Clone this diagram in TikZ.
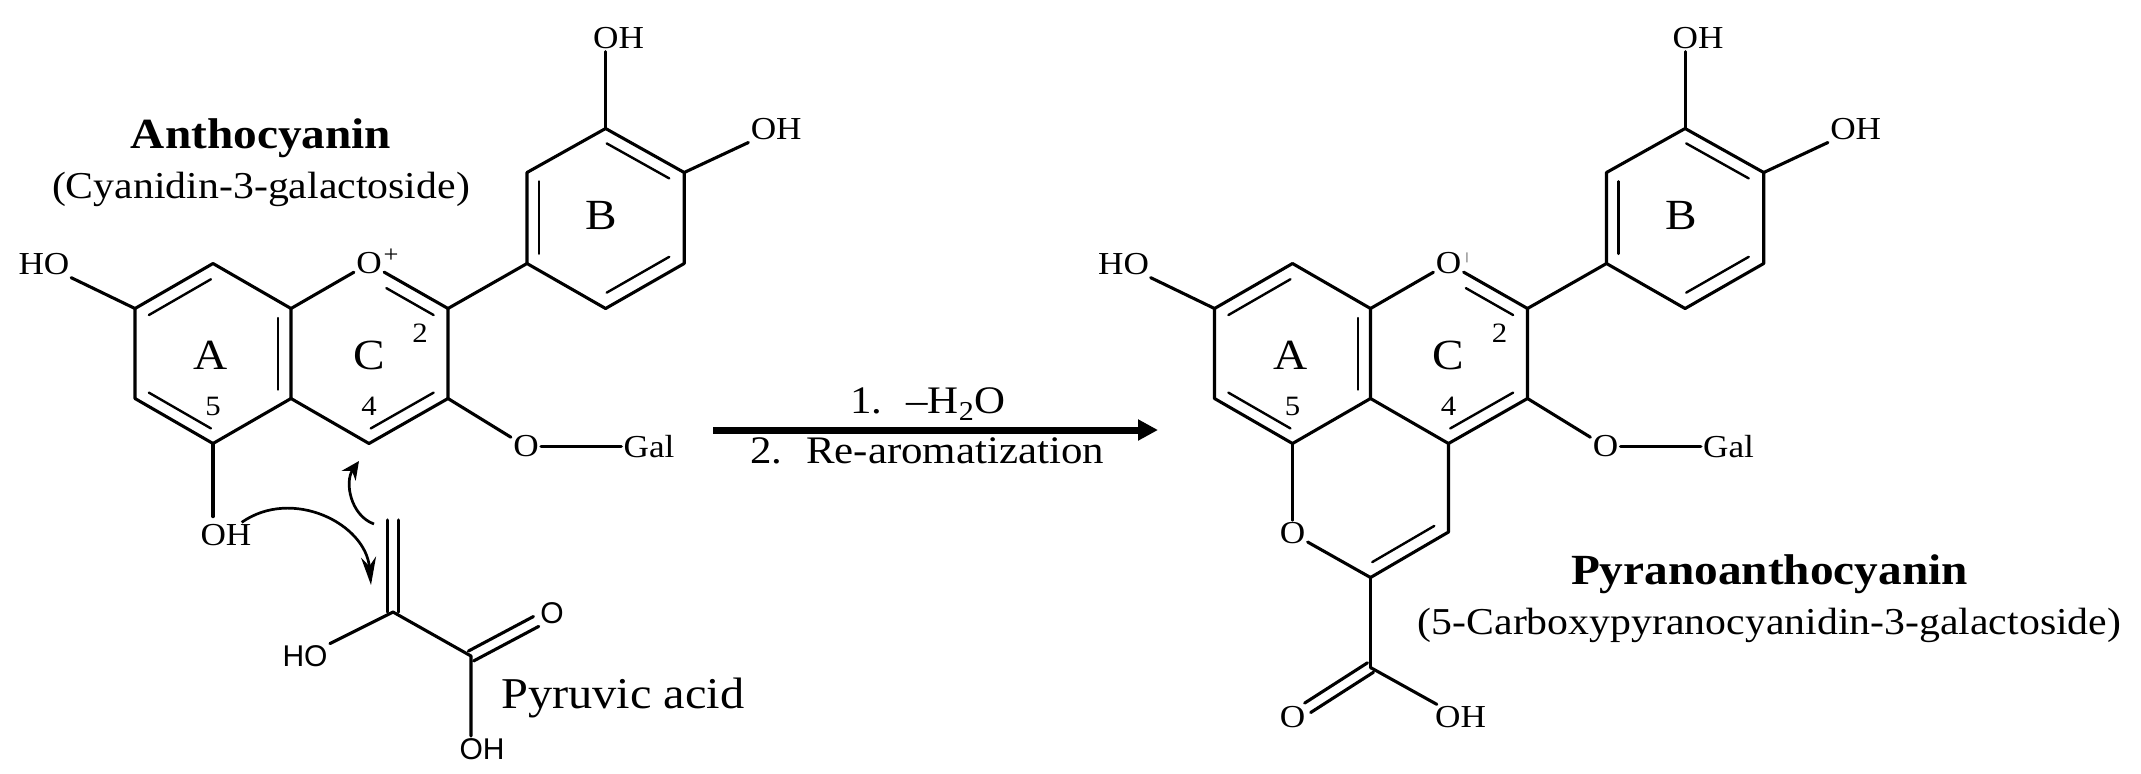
\documentclass[tikz,border=0pt]{standalone}
\usepackage{fontspec}
\setmainfont[FakeStretch=1.1]{Liberation Serif}
\setsansfont{Liberation Sans}
\usetikzlibrary{positioning,calc,arrows.meta}
\tikzset{
  every node/.style={inner sep=1pt},
  bond/.style={line width=1.55pt,line cap=round,line join=round},
  thinbond/.style={line width=1.2pt,line cap=round},
  heavybond/.style={line width=1.85pt,line cap=round},
  atom/.style={anchor=center,font=\fontsize{16}{16}\selectfont},
  acidatom/.style={anchor=center,font=\fontsize{15}{15}\sffamily\selectfont},
  ringname/.style={anchor=center,font=\fontsize{21.5}{21.5}\selectfont},
  locant/.style={anchor=center,font=\fontsize{14}{14}\selectfont},
  headline/.style={anchor=center,font=\fontsize{21.5}{21.5}\bfseries\selectfont},
  subline/.style={anchor=center,font=\fontsize{19}{19}\selectfont},
  reagent/.style={anchor=center,font=\fontsize{19.5}{19.5}\selectfont},
  push/.style={line width=1.35pt}
}
% inner line of a ring double bond, pulled towards the ring centre
\newcommand{\ringbond}[4][]{\draw[thinbond,shorten <=1pt,shorten >=1pt,#1] ($(#2)!.16!(#4)$) -- ($(#3)!.16!(#4)$);}
\newcommand{\dblbond}[3][]{
  \draw[bond,#1] ($(#2)!2.8pt!90:(#3)$) -- ($(#3)!2.8pt!-90:(#2)$);
  \draw[bond,#1] ($(#2)!2.8pt!-90:(#3)$) -- ($(#3)!2.8pt!90:(#2)$);
}
% rings A, B, C with their substituents, #1 is the side of the scheme
\newcommand{\flavylium}[1]{
  \coordinate [on grid, below left=22.5pt and 39pt of A1#1] (A2#1);
  \coordinate [on grid, below=45pt of A2#1] (A3#1);
  \coordinate [on grid, below right=22.5pt and 39pt of A3#1] (A4#1);
  \coordinate [on grid, above right=22.5pt and 39pt of A4#1] (A5#1);
  \coordinate [on grid, above=45pt of A5#1] (A6#1);
  \node [on grid, above right=22.5pt and 39pt of A6#1, atom] (O#1) {O};
  \coordinate [on grid, below right=22.5pt and 39.5pt of O#1] (C2#1);
  \coordinate [on grid, below=45pt of C2#1] (C3#1);
  \coordinate [on grid, below left=22.5pt and 39.5pt of C3#1] (C4#1);
  \coordinate [on grid, above right=22.5pt and 39.5pt of C2#1] (B1#1);
  \coordinate [on grid, above=45.5pt of B1#1] (B2#1);
  \coordinate [on grid, above right=22pt and 39.3pt of B2#1] (B3#1);
  \coordinate [on grid, below right=22pt and 39.3pt of B3#1] (B4#1);
  \coordinate [on grid, below=45.5pt of B4#1] (B5#1);
  \coordinate [on grid, below left=22.5pt and 39.3pt of B5#1] (B6#1);
  \node [on grid, below left=46pt and 1pt of A1#1, ringname] (RingA#1) {A};
  \node [on grid, below=46pt of O#1, ringname] (RingC#1) {C};
  \node [on grid, below left=43.5pt and 2pt of B3#1, ringname] (RingB#1) {B};
  \node [on grid, below left=12.5pt and 14pt of C2#1, locant] (LocTwo#1) {2};
  \node [on grid, above=18.5pt of C4#1, locant] (LocFour#1) {4};
  \node [on grid, above=18.5pt of A4#1, locant] (LocFive#1) {5};
  \node [on grid, above left=22pt and 45.5pt of A2#1, atom] (HO#1) {HO};
  \node [on grid, above right=45pt and 6.5pt of B3#1, atom] (OHtop#1) {OH};
  \node [on grid, above right=21.5pt and 46pt of B4#1, atom] (OHright#1) {OH};
  \node [on grid, below right=24pt and 39pt of C3#1, atom] (OGal#1) {O};
  \node [on grid, right=61.5pt of OGal#1, atom] (Gal#1) {Gal};
  \draw[bond] (A1#1) -- (A2#1) -- (A3#1) -- (A4#1) -- (A5#1) -- (A6#1) -- (A1#1);
  \draw[bond] (A5#1) -- (C4#1) -- (C3#1) -- (C2#1) -- (O#1) -- (A6#1);
  \draw[bond] (C2#1) -- (B1#1) -- (B2#1) -- (B3#1) -- (B4#1) -- (B5#1) -- (B6#1) -- (B1#1);
  \draw[bond] (A2#1) -- (HO#1);
  \draw[bond] (B3#1) -- (B3#1 |- OHtop#1.south);
  \draw[bond] (B4#1) -- (OHright#1);
  \draw[bond] (C3#1) -- (OGal#1);
  \draw[heavybond] (OGal#1) -- (Gal#1);
  \ringbond{A1#1}{A2#1}{RingA#1}
  \ringbond{A3#1}{A4#1}{RingA#1}
  \ringbond{A5#1}{A6#1}{RingA#1}
  \ringbond[shorten <=10pt]{O#1}{C2#1}{RingC#1}
  \ringbond{C3#1}{C4#1}{RingC#1}
  \ringbond{B1#1}{B2#1}{RingB#1}
  \ringbond{B3#1}{B4#1}{RingB#1}
  \ringbond{B5#1}{B6#1}{RingB#1}
}

\begin{document}
\begin{tikzpicture}
  \path[use as bounding box] (0,0) rectangle (1070.5pt,-386.5pt);

  \coordinate (A1L) at (106.5pt,-131.75pt);
  \flavylium{L}
  \node [on grid, above right=4pt and 11pt of OL, anchor=center, font=\fontsize{12}{12}\selectfont] (PlusL) {+};
  \node [on grid, below right=46pt and 6.5pt of A4L, atom] (OHL) {OH};
  \draw[heavybond,shorten >=3pt] (A4L) -- (A4L |- OHL.north);
  \node [on grid, above right=62.5pt and 24pt of A1L, headline] (Antho) {Anthocyanin};
  \node [on grid, below=25.5pt of Antho, subline] (Cyanidin) {(Cyanidin-3-galactoside)};

  % pyruvic acid
  \coordinate (CaP) at (196.5pt,-306pt);
  \coordinate [on grid, above=46pt of CaP] (VinylP);
  \coordinate [on grid, below right=22pt and 39pt of CaP] (CbP);
  \node [on grid, below left=22pt and 44pt of CaP, acidatom] (HOP) {HO};
  \node [on grid, above right=21.5pt and 40.5pt of CbP, acidatom] (OP) {O};
  \node [on grid, below right=46.5pt and 5.5pt of CbP, acidatom] (OHP) {OH};
  \node [on grid, below right=21pt and 76pt of CbP, anchor=center, font=\fontsize{22}{22}\selectfont] (Pyruvic) {Pyruvic acid};
  \draw[bond] (HOP) -- (CaP) -- (CbP) -- (CbP |- OHP.north);
  \dblbond{CaP}{VinylP}
  \dblbond[shorten >=9pt]{CbP}{OP}

  % electron pushing
  \coordinate [on grid, above right=44pt and -9.5pt of CaP] (PushFrom);
  \coordinate [on grid, above left=75.5pt and 17pt of CaP] (PushTo);
  \coordinate [on grid, above left=13.5pt and 11pt of CaP] (PushEnd);
  \draw[push,-{Stealth[length=9pt,width=8.5pt]}] (PushFrom) to[out=160,in=-125] (PushTo);
  \draw[push,-{Stealth[length=14pt,width=7.5pt]}] (OHL.40) to[out=35,in=95,looseness=1.1] (PushEnd);

  % reaction arrow
  \coordinate (ArrowTail) at (356.5pt,-215pt);
  \coordinate [on grid, right=222.5pt of ArrowTail] (ArrowTip);
  \draw[line width=3.5pt,-{Triangle[length=10pt,width=10pt]}] (ArrowTail) -- (ArrowTip);
  \node [on grid, above right=13pt and 107.5pt of ArrowTail, reagent] (StepOne) {1.\hspace{12pt}–H\textsubscript{2}O};
  \node [on grid, below right=10.5pt and 107pt of ArrowTail, reagent] (StepTwo) {2.\hspace{12pt}Re-aromatization};

  \coordinate (A1R) at (646.25pt,-131.75pt);
  \flavylium{R}
  \node [on grid, above right=3pt and 9.25pt of OR, anchor=center, font=\fontsize{5.5}{5.5}\selectfont] (MarkR) {|};
  \node [on grid, below=45pt of A4R, atom] (OPy) {O};
  \coordinate [on grid, below=44.25pt of C4R] (DR);
  \coordinate [on grid, below right=22pt and 39pt of OPy] (ER);
  \coordinate [on grid, below=45pt of ER] (CoohR);
  \coordinate [on grid, above=45pt of ER] (RingDR);
  \node [on grid, below left=25pt and 39pt of CoohR, atom] (OCo) {O};
  \node [on grid, below right=25pt and 45pt of CoohR, atom] (OHCo) {OH};
  \draw[thinbond] (A4R) -- (OPy);
  \draw[bond] (C4R) -- (DR) -- (ER) -- (OPy);
  \draw[heavybond] (ER) -- (CoohR);
  \draw[bond] (CoohR) -- (OHCo);
  \dblbond[shorten >=9pt]{CoohR}{OCo}
  \ringbond{DR}{ER}{RingDR}
  \node [on grid, above right=1.5pt and 199.5pt of ER, headline] (Pyrano) {Pyranoanthocyanin};
  \node [on grid, below=25.5pt of Pyrano, subline] (Carboxy) {(5-Carboxypyranocyanidin-3-galactoside)};
\end{tikzpicture}
\end{document}
